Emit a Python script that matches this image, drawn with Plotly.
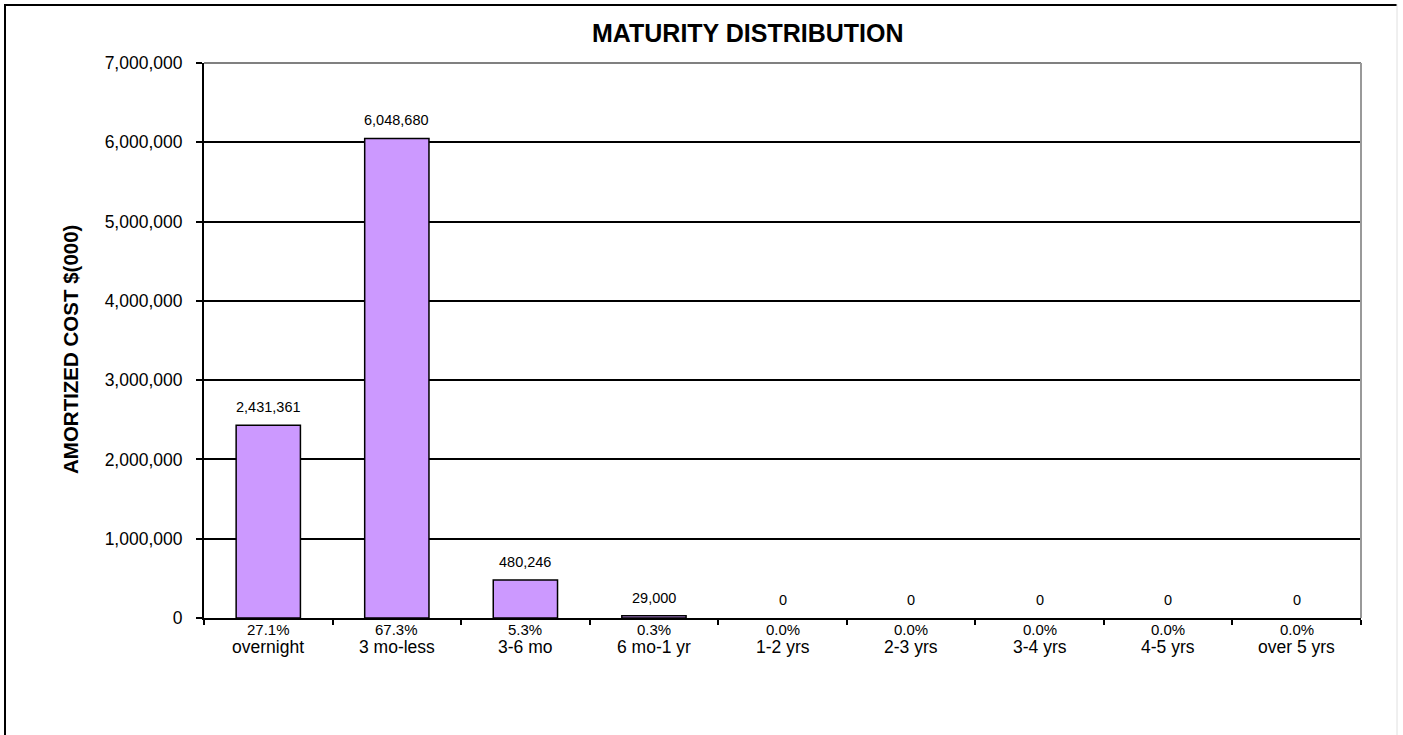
import plotly.graph_objects as go

categories = ["overnight", "3 mo-less", "3-6 mo", "6 mo-1 yr", "1-2 yrs", "2-3 yrs", "3-4 yrs", "4-5 yrs", "over 5 yrs"]
values = [2431361, 6048680, 480246, 29000, 0, 0, 0, 0, 0]
percent_labels = ["27.1%", "67.3%", "5.3%", "0.3%", "0.0%", "0.0%", "0.0%", "0.0%", "0.0%"]
y_ticks = [0, 1000000, 2000000, 3000000, 4000000, 5000000, 6000000, 7000000]

W, H = 1403, 735
L, R, T, B = 204, 42, 63, 117
pw, ph = W - L - R, H - T - B

def px_x(x):
    return (x - L) / pw

def px_y(y):
    return (H - B - y) / ph

FONT = "Arial, Liberation Sans, sans-serif"

fig = go.Figure()
fig.add_trace(go.Bar(
    x=categories,
    y=values,
    width=0.5,
    marker=dict(color="#CC99FF", line=dict(color="black", width=[1.5 if v > 0 else 0 for v in values])),
    cliponaxis=False,
    hoverinfo="x+y",
))

annotations = []
for c, v in zip(categories, values):
    annotations.append(dict(text=f"{v:,}", x=c, y=v, xref="x", yref="y", xanchor="center",
                            yanchor="middle", yshift=18, showarrow=False,
                            font=dict(size=14.5, family=FONT, color="black")))
for c, p in zip(categories, percent_labels):
    annotations.append(dict(text=p, x=c, y=px_y(629), xref="x", yref="paper", xanchor="center",
                            yanchor="middle", showarrow=False,
                            font=dict(size=15, family=FONT, color="black")))
for c in categories:
    annotations.append(dict(text=c, x=c, y=px_y(647), xref="x", yref="paper", xanchor="center",
                            yanchor="middle", showarrow=False,
                            font=dict(size=17.5, family=FONT, color="black")))
annotations.append(dict(text="<b>AMORTIZED COST $(000)</b>", textangle=-90, xref="paper", yref="paper",
                        x=px_x(70), y=px_y(350), xanchor="center", yanchor="middle", showarrow=False,
                        font=dict(size=20.5, family=FONT, color="black")))
annotations.append(dict(text="<b>MATURITY DISTRIBUTION</b>", xref="paper", yref="paper",
                        x=px_x(747.5), y=px_y(33), xanchor="center", yanchor="middle", showarrow=False,
                        font=dict(size=25, family=FONT, color="black")))

fig.update_layout(
    width=W, height=H,
    margin=dict(l=L, r=R, t=T, b=B),
    paper_bgcolor="white", plot_bgcolor="white",
    font=dict(family=FONT, color="black"),
    showlegend=False,
    bargap=0.5,
    xaxis=dict(
        type="category",
        tickmode="array", tickvals=categories, showticklabels=False,
        tickson="boundaries", ticks="outside", ticklen=5, tickcolor="black", tickwidth=1.5,
        showline=True, linecolor="black", linewidth=2,
        showgrid=False,
        range=[-0.5, 8.5],
    ),
    yaxis=dict(
        range=[0, 7000000], tickvals=y_ticks, tickformat=",d",
        ticks="outside", ticklen=6, tickcolor="black", tickwidth=1.5,
        ticklabelstandoff=10,
        showline=True, linecolor="black", linewidth=2,
        showgrid=True, gridcolor="black", gridwidth=1.5,
        zeroline=False,
        tickfont=dict(size=17.5, family=FONT, color="black"),
    ),
    shapes=[
        dict(type="line", xref="paper", yref="paper", x0=0, x1=1, y0=1, y1=1, line=dict(color="#808080", width=2), layer="above"),
        dict(type="line", xref="paper", yref="paper", x0=1, x1=1, y0=0, y1=1, line=dict(color="#999999", width=2), layer="above"),
        dict(type="line", xref="paper", yref="paper", x0=px_x(5), x1=px_x(5), y0=px_y(4), y1=px_y(740), line=dict(color="black", width=2)),
        dict(type="line", xref="paper", yref="paper", x0=px_x(4), x1=px_x(1397), y0=px_y(5), y1=px_y(5), line=dict(color="black", width=2)),
        dict(type="line", xref="paper", yref="paper", x0=px_x(1397), x1=px_x(1397), y0=px_y(4), y1=px_y(740), line=dict(color="#e0e0e0", width=1)),
    ],
    annotations=annotations,
)

fig.write_html("out.html", config={"displayModeBar": False},
               post_script="document.body.style.margin='0';document.body.style.overflow='hidden';")
